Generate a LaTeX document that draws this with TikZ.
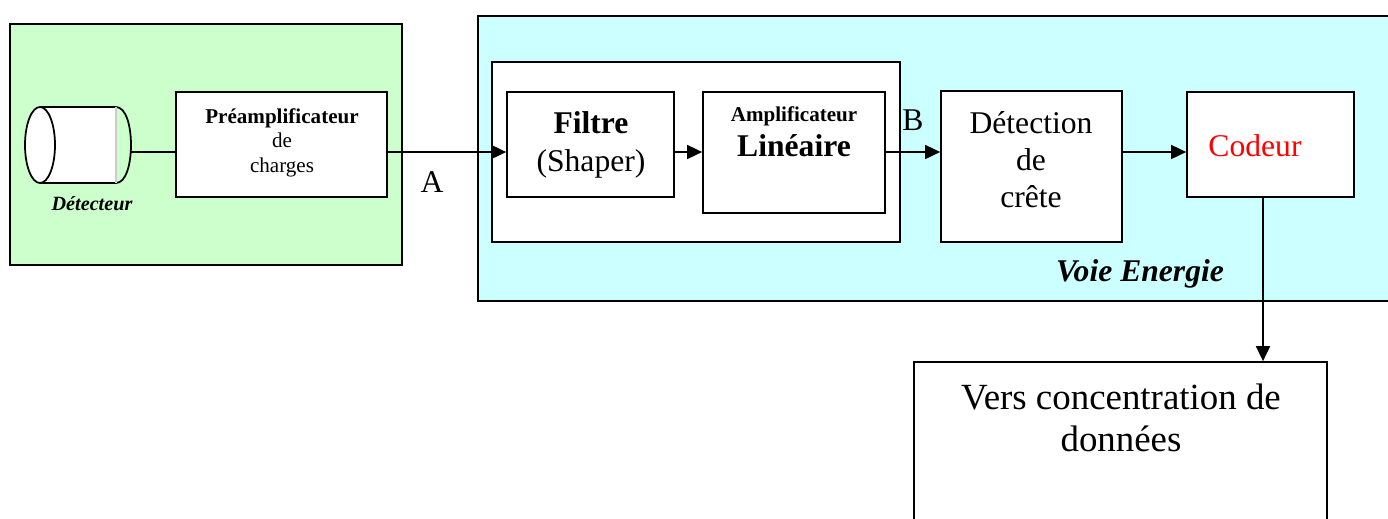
\documentclass[tikz,border=0pt]{standalone}
\usepackage{fontspec}
\setmainfont{Liberation Serif}
\usetikzlibrary{arrows.meta}
\tikzset{
    %Define standard arrow tip
    >={Triangle[length=0.3cm,width=0.28cm]},
    block/.style={draw, fill=white, line width=1pt, inner sep=0pt},
    wire/.style={line width=1pt}
}
\definecolor{greenbg}{RGB}{204,255,204}
\definecolor{cyanbg}{RGB}{204,255,255}
\newcommand\fs[2]{\fontsize{#1}{#2}\selectfont}

\begin{document}
\begin{tikzpicture}[x=0.02cm,y=-0.02cm]
    \clip (0,0) rectangle (1388,518);
    \coordinate (sig) at (0,152);
    \coordinate (down) at (1263,0);
    % panels
    \draw[wire, fill=greenbg] (10,24) rectangle (402,265);
    \draw[wire, fill=cyanbg] (478,16) rectangle (1400,301);
    \draw[wire, fill=white] (492,62) rectangle (900,242);
    % detector
    \fill[white] (40,107) rectangle (116,183);
    \draw[wire] (40,107) -- (116,107) .. controls (136,107) and (136,183) .. (116,183) -- (40,183);
    \draw[gray!40, line width=0.6pt] (116,107) -- (116,183);
    \draw[wire, fill=white] (40,145) ellipse [x radius=15, y radius=38];
    \coordinate (det) at (131,152);
    \node[anchor=base, font=\fs{11.5}{13}\bfseries\itshape] (detlbl) at (92,210) {Détecteur};
    % blocks
    \node[block, minimum width=4.22cm, minimum height=2.1cm] (preamp) at (281.5,144.5) {};
    \node[align=center, font=\fs{12}{14}] (preamptxt) at (282,142.5) {\textbf{Préamplificateur}\\de\\charges};
    \node[block, minimum width=3.34cm, minimum height=2.1cm] (filtre) at (590.5,144.5) {};
    \node[align=center, font=\fs{18}{21.3}] (filtretxt) at (591,144.8) {\textbf{Filtre}\\(Shaper)};
    \node[block, minimum width=3.64cm, minimum height=2.42cm] (ampli) at (794,152.5) {};
    \node[anchor=base, font=\fs{12}{14}\bfseries] (amplitop) at (794,121.7) {Amplificateur};
    \node[anchor=base, font=\fs{18}{20}\bfseries] (amplibot) at (794,156.7) {Linéaire};
    \node[block, minimum width=3.62cm, minimum height=3.02cm] (crete) at (1031.5,166.5) {};
    \node[align=center, font=\fs{18}{21}] (cretetxt) at (1031,159.4) {Détection\\de\\crête};
    \node[block, minimum width=3.34cm, minimum height=2.1cm] (codeur) at (1270.5,144.5) {};
    \node[anchor=base, font=\fs{18}{20}, text=red] (codeurtxt) at (1255,156.7) {Codeur};
    \node[block, minimum width=8.26cm, minimum height=3.56cm] (vers) at (1120.5,451) {};
    \node[align=center, font=\fs{21}{24}] (verstxt) at (1121,418) {Vers concentration de\\données};
    % labels
    \node[anchor=base, font=\fs{18}{20}] (lblA) at (432,192) {A};
    \node[anchor=base, font=\fs{18}{20}] (lblB) at (913,130) {B};
    \node[anchor=base, font=\fs{18}{20}\bfseries\itshape] (voie) at (1140,281.5) {Voie Energie};
    % connectors
    \draw[wire] (det) -- (preamp.west|-sig);
    \draw[wire,->] (preamp.east|-sig) -- (filtre.west|-sig);
    \draw[wire,->] (filtre.east|-sig) -- (ampli.west|-sig);
    \draw[wire,->] (ampli.east|-sig) -- (crete.west|-sig);
    \draw[wire,->] (crete.east|-sig) -- (codeur.west|-sig);
    \draw[wire,->] (codeur.south-|down) -- (vers.north-|down);
\end{tikzpicture}
\end{document}
